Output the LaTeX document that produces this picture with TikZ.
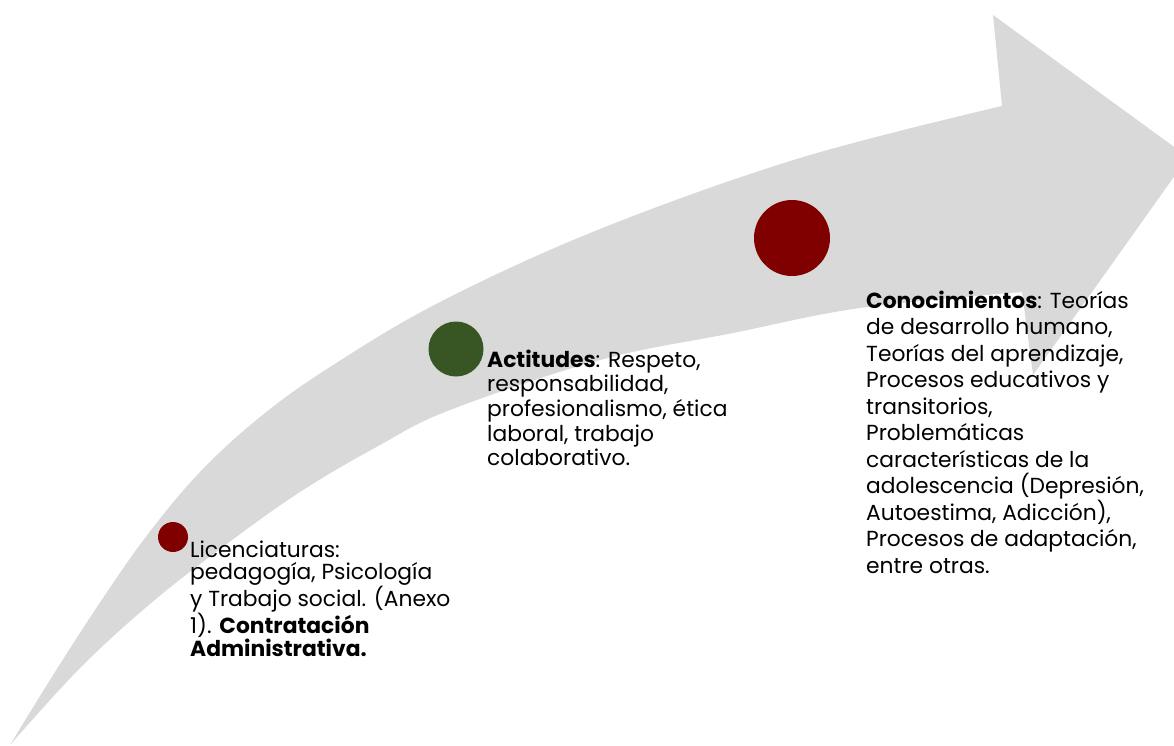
\documentclass[tikz,border=0pt]{standalone}
\usepackage{fontspec}
\setmainfont{Poppins}
\definecolor{arrowgray}{HTML}{D9D9D9}
\definecolor{darkred}{HTML}{800000}
\definecolor{darkgreen}{HTML}{375623}
\tikzset{
  dot/.style={circle, inner sep=0pt, draw=none},
  txt/.style={anchor=north west, inner sep=0pt, align=left, text=black,
    font=\fontsize{21.8}{#1}\selectfont},
  txt/.default=23.3
}
\newcommand{\firststrut}{\rule{0pt}{22pt}}
\begin{document}
\begin{tikzpicture}[x=1pt,y=-1pt]
\useasboundingbox (0,0) rectangle (1174,745);
\clip (0,0) rectangle (1174,745);
% curved arrow
\fill[arrowgray]
  plot[smooth,tension=0.6] coordinates {(10,745) (55,672) (103,598) (148,534) (200,472) (260,417) (330,367) (440,302) (600,229) (800,158) (1002,106)}
  -- (993,15) -- (1188,157) -- (1033,375) -- (1022,292)
  -- plot[smooth,tension=0.6] coordinates {(1022,292) (860,308) (733,333) (600,360) (450,410) (380,445) (300,492) (220,549) (150,604) (80,668) (10,745)}
  -- cycle;
% dots
\node[dot, fill=darkred, minimum size=30pt] (d1) at (173,537) {};
\node[dot, fill=darkgreen, minimum size=55pt] (d2) at (456,349) {};
\node[dot, fill=darkred, minimum size=76pt] (d3) at (792,238) {};
% texts
\node[txt=22.4] (t1) at (190,535) {\firststrut Licenciaturas:\\
pedagogía, Psicología\\
y Trabajo social. (Anexo\\
1). \textbf{Contratación}\\
\textbf{Administrativa.}};
\node[txt=24.6] (t2) at (487,345) {\firststrut\textbf{Actitudes}: Respeto,\\
responsabilidad,\\
profesionalismo, ética\\
laboral, trabajo\\
colaborativo.};
\node[txt=26.5] (t3) at (866,286) {\firststrut\textbf{Conocimientos}: Teorías\\
de desarrollo humano,\\
Teorías del aprendizaje,\\
Procesos educativos y\\
transitorios,\\
Problemáticas\\
características de la\\
adolescencia (Depresión,\\
Autoestima, Adicción),\\
Procesos de adaptación,\\
entre otras.};
\end{tikzpicture}
\end{document}
